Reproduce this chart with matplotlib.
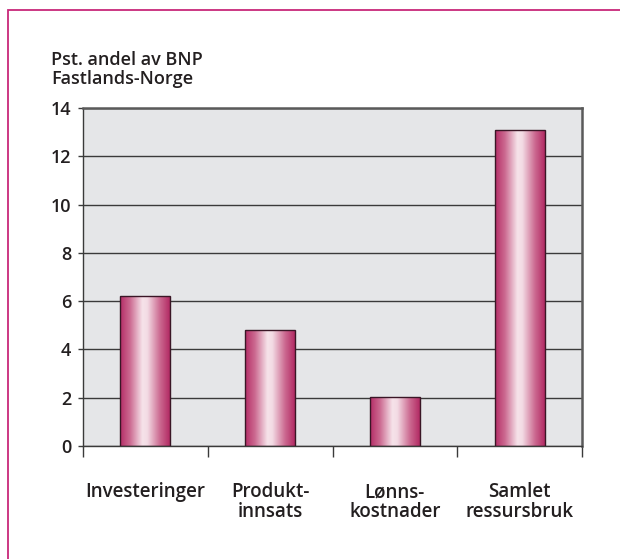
import numpy as np
import matplotlib
matplotlib.use("Agg")
import matplotlib.pyplot as plt
from matplotlib.colors import LinearSegmentedColormap
from matplotlib.patches import Rectangle

categories = ["Investeringer", "Produkt-\ninnsats", "Lønns-\nkostnader", "Samlet\nressursbruk"]
values = [6.2, 4.8, 2.05, 13.1]
y_ticks = [0, 2, 4, 6, 8, 10, 12, 14]
y_title = "Pst. andel av BNP\nFastlands-Norge"

plt.rcParams["font.family"] = ["Open Sans", "DejaVu Sans"]
text_color = "#231f20"

fig = plt.figure(figsize=(6.2, 5.59), dpi=100)
ax = fig.add_axes([83 / 620, 1 - 446 / 559, 499 / 620, 338 / 559])

# pink frame around the figure
fig.patches.append(Rectangle((8 / 620, -0.2), 1.2, 1 - 10 / 559 + 0.2,
                             transform=fig.transFigure, fill=False,
                             edgecolor="#c8287a", linewidth=1.3))

ax.set_facecolor("#e5e6e8")

# gradient bars (cylinder look)
cmap = LinearSegmentedColormap.from_list(
    "cyl", [(0.0, "#b52d66"), (0.2, "#cc6a91"), (0.45, "#f6e3ea"),
            (0.55, "#f3dbe4"), (0.8, "#cc6a91"), (1.0, "#b22a63")])
grad = np.linspace(0, 1, 256).reshape(1, -1)
x = np.arange(len(categories))
bars = ax.bar(x, values, width=0.4, color="none", edgecolor="#3a1626",
              linewidth=1.0, zorder=3)
for b in bars:
    x0, w, h = b.get_x(), b.get_width(), b.get_height()
    im = ax.imshow(grad, cmap=cmap, aspect="auto", extent=[x0, x0 + w, 0, h],
                   zorder=2.5, interpolation="bicubic")
    im.set_clip_path(b)

ax.set_xlim(-0.5, len(categories) - 0.5)
ax.set_ylim(0, 14)

ax.set_yticks(y_ticks)
ax.set_yticklabels([str(v) for v in y_ticks], fontweight="semibold")
ax.yaxis.grid(True, color="#3a3a3a", linewidth=1.0, zorder=1)
ax.set_axisbelow(True)
ax.tick_params(axis="y", length=3.6, width=1, color="#3a3a3a", labelsize=13,
               labelcolor=text_color, pad=5)

ax.set_xticks(x)
ax.set_xticklabels(categories, fontsize=13.5, color=text_color,
                   linespacing=1.0, fontweight="semibold")
ax.tick_params(axis="x", which="major", length=0, pad=26)
ax.set_xticks(np.arange(-0.5, len(categories)), minor=True)
ax.tick_params(axis="x", which="minor", length=8, width=1, color="#3a3a3a")

for s in ["left", "bottom"]:
    ax.spines[s].set_color("#3a3a3a")
    ax.spines[s].set_linewidth(1)
for s in ["top", "right"]:
    ax.spines[s].set_color("#5a5a5a")
    ax.spines[s].set_linewidth(1.8)

fig.text(51 / 620, 1 - 51 / 559, y_title, fontsize=13, color=text_color,
         va="top", ha="left", linespacing=1.08, fontweight="semibold")

fig.savefig("out.png", dpi=100)
